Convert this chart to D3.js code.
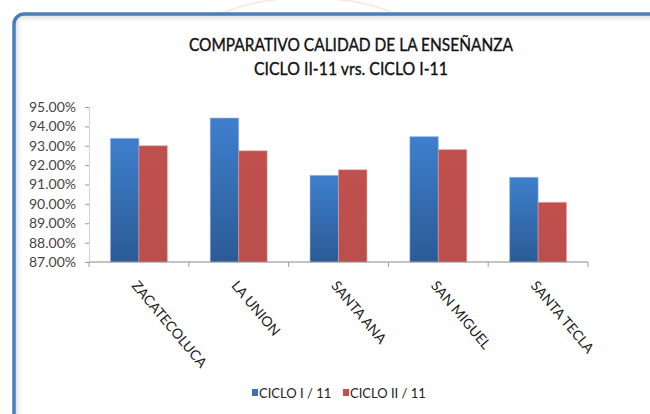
<!DOCTYPE html>
<html>
<head>
<meta charset="utf-8">
<script src="https://cdn.jsdelivr.net/npm/d3@7"></script>
<style>
  html, body { margin: 0; padding: 0; background: #fff; }
  svg { display: block; font-family: Lato, "Open Sans", sans-serif; }
</style>
</head>
<body>
<div id="chart"></div>
<script>
// data
const categories = ["ZACATECOLUCA", "LA UNION", "SANTA ANA", "SAN MIGUEL", "SANTA TECLA"]
const seriesNames = ["CICLO I / 11", "CICLO II / 11"]
const cicloI = [0.9338, 0.9443, 0.9147, 0.9347, 0.9137]
const cicloII = [0.9300, 0.9274, 0.9176, 0.9280, 0.9008]
const yTicks = [0.87, 0.88, 0.89, 0.90, 0.91, 0.92, 0.93, 0.94, 0.95]
const titleLines = ["COMPARATIVO CALIDAD DE LA ENSEÑANZA", "CICLO II-11 vrs. CICLO I-11"]

const width = 650
const height = 414
const plot = { left: 89, right: 588, top: 107, bottom: 262 }

const svg = d3.select("#chart")
  .append("svg")
  .attr("width", width)
  .attr("height", height)

const defs = svg.append("defs")
const blueGrad = defs.append("linearGradient")
  .attr("id", "blueGrad").attr("x1", 0).attr("y1", 0).attr("x2", 0).attr("y2", 1)
blueGrad.append("stop").attr("offset", "0%").attr("stop-color", "#3e7fcd")
blueGrad.append("stop").attr("offset", "100%").attr("stop-color", "#2b5b95")
const redGrad = defs.append("linearGradient")
  .attr("id", "redGrad").attr("x1", 0).attr("y1", 0).attr("x2", 0).attr("y2", 1)
redGrad.append("stop").attr("offset", "0%").attr("stop-color", "#c0504d")
redGrad.append("stop").attr("offset", "100%").attr("stop-color", "#bb4e4b")

// faint ornament behind the frame
svg.append("ellipse")
  .attr("cx", 308).attr("cy", 34).attr("rx", 104).attr("ry", 36)
  .attr("fill", "none").attr("stroke", "#f1e9de").attr("stroke-width", 1.5)

// frame with inner shadow
const frame = svg.append("g")
frame.append("rect")
  .attr("x", 14).attr("y", 14).attr("width", 660).attr("height", 430)
  .attr("rx", 10).attr("fill", "#fff")
for (let i = 1; i <= 7; i++) {
  frame.append("rect")
    .attr("x", 14 + i).attr("y", 14 + i)
    .attr("width", 660).attr("height", 430)
    .attr("rx", Math.max(2, 10 - i))
    .attr("fill", "none")
    .attr("stroke", "#000")
    .attr("stroke-opacity", 0.14 - i * 0.018)
    .attr("stroke-width", 1)
}
frame.append("rect")
  .attr("x", 14).attr("y", 14).attr("width", 660).attr("height", 430)
  .attr("rx", 10).attr("fill", "none")
  .attr("stroke", "#4a7ebb").attr("stroke-width", 3.5)

// title
svg.selectAll(".title")
  .data(titleLines)
  .enter()
  .append("text")
  .attr("class", "title")
  .attr("x", 351)
  .attr("y", (_, i) => 51 + i * 24)
  .attr("text-anchor", "middle")
  .attr("fill", "#111")
  .attr("stroke", "#111")
  .attr("stroke-width", 0.35)
  .attr("font-size", 17)
  .attr("textLength", (_, i) => i === 0 ? 324 : 194)
  .attr("lengthAdjust", "spacingAndGlyphs")
  .text(d => d)

// scales
const x = d3.scaleBand().domain(categories).range([plot.left, plot.right])
const x1 = d3.scaleBand().domain(seriesNames)
  .range([x.bandwidth() * 0.215, x.bandwidth() * 0.785])
const y = d3.scaleLinear().domain([0.87, 0.95]).range([plot.bottom, plot.top])

// y axis
const yAxis = svg.append("g")
  .attr("transform", `translate(${plot.left},0)`)
  .call(d3.axisLeft(y).tickValues(yTicks).tickFormat(d3.format(".2%")).tickSize(4).tickPadding(9))
yAxis.select(".domain").attr("stroke", "#d4d4d4")
yAxis.selectAll(".tick line").attr("stroke", "#9a9a9a")
yAxis.selectAll(".tick text")
  .attr("font-family", "Lato, sans-serif")
  .attr("font-size", 14)
  .attr("fill", "#444")

// bars
const rows = categories.map((c, i) => ({ cat: c, values: [cicloI[i], cicloII[i]] }))
const groups = svg.selectAll(".grp")
  .data(rows)
  .enter()
  .append("g")
  .attr("class", "grp")
  .attr("transform", d => `translate(${x(d.cat)},0)`)

groups.selectAll("rect")
  .data(d => d.values.map((v, j) => ({ name: seriesNames[j], v, j })))
  .enter()
  .append("rect")
  .attr("x", d => x1(d.name))
  .attr("width", x1.bandwidth())
  .attr("y", d => y(d.v))
  .attr("height", d => plot.bottom - y(d.v))
  .attr("fill", d => d.j === 0 ? "url(#blueGrad)" : "url(#redGrad)")
  .attr("stroke", d => d.j === 0 ? "#8fb4e3" : "#e3a3a1")
  .attr("stroke-opacity", 0.5)
  .attr("stroke-width", 1)

// x axis line and boundary ticks
const xAxis = svg.append("g")
xAxis.append("line")
  .attr("x1", plot.left).attr("x2", plot.right)
  .attr("y1", plot.bottom).attr("y2", plot.bottom)
  .attr("stroke", "#8a8a8a").attr("stroke-width", 1.2)
const bounds = categories.map(c => x(c)).concat([x.range()[1]])
xAxis.selectAll(".xtick")
  .data(bounds)
  .enter()
  .append("line")
  .attr("class", "xtick")
  .attr("x1", d => d).attr("x2", d => d)
  .attr("y1", plot.bottom).attr("y2", plot.bottom + 5)
  .attr("stroke", "#a0a0a0")

// rotated category labels
svg.selectAll(".xlabel")
  .data(categories)
  .enter()
  .append("text")
  .attr("class", "xlabel")
  .attr("transform", d => `translate(${x(d) + x.bandwidth() / 2 - 8},${plot.bottom + 24}) rotate(50)`)
  .attr("font-size", 14)
  .attr("fill", "#222")
  .text(d => d)

// legend
const legend = svg.append("g")
  .attr("transform", "translate(252,393)")
const legendX = [0, 91]
const legendItems = legend.selectAll(".leg")
  .data(seriesNames)
  .enter()
  .append("g")
  .attr("class", "leg")
  .attr("transform", (_, i) => `translate(${legendX[i]},0)`)
legendItems.append("rect")
  .attr("x", 0).attr("y", -4)
  .attr("width", 6).attr("height", 7)
  .attr("fill", (_, i) => i === 0 ? "#3a73b8" : "#c0504d")
legendItems.append("text")
  .attr("x", 7).attr("y", 4.5)
  .attr("font-size", 13)
  .attr("fill", "#222")
  .text(d => d)
</script>
</body>
</html>
